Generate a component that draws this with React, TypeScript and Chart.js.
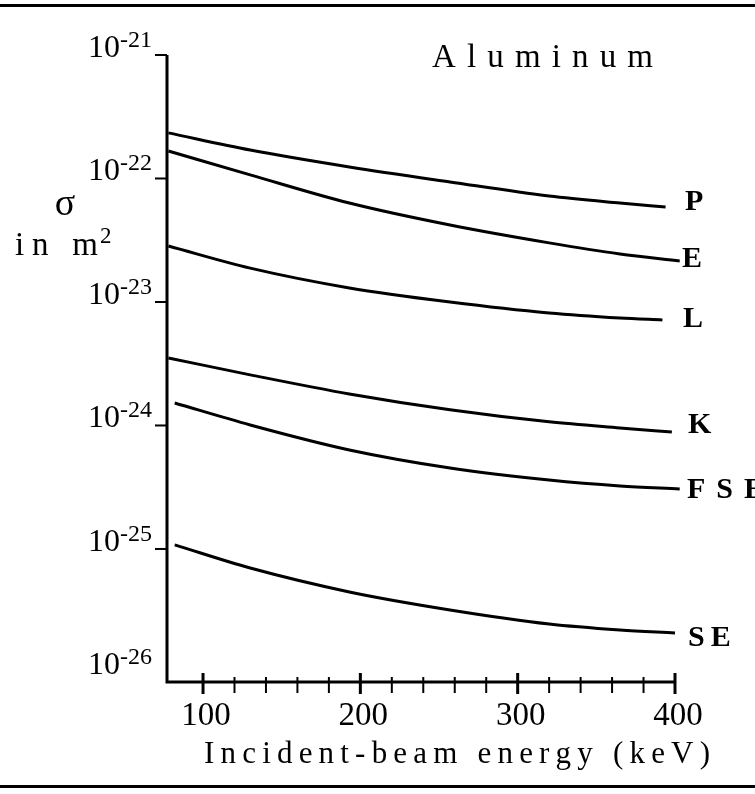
import React, { useEffect, useRef } from 'react';
import { Chart, registerables } from 'chart.js';

Chart.register(...registerables);

// ---- data ----
const seriesNames = ['P', 'E', 'L', 'K', 'FSE', 'SE'];

const energyP = [78, 130, 193, 257, 320, 365, 394];
const sigmaP = [2.34e-22, 1.7e-22, 1.24e-22, 9.37e-23, 7.21e-23, 6.33e-23, 5.88e-23];

const energyE = [78, 130, 193, 257, 320, 365, 403];
const sigmaE = [1.67e-22, 1.07e-22, 6.33e-23, 4.2e-23, 3.01e-23, 2.45e-23, 2.15e-23];

const energyL = [78, 130, 193, 257, 320, 365, 392];
const sigmaL = [2.84e-23, 1.88e-23, 1.3e-23, 1.0e-23, 8.15e-24, 7.42e-24, 7.15e-24];

const energyK = [78, 130, 193, 257, 320, 365, 398];
const sigmaK = [3.52e-24, 2.57e-24, 1.8e-24, 1.34e-24, 1.07e-24, 9.55e-25, 8.85e-25];

const energyFSE = [82, 130, 193, 257, 320, 365, 403];
const sigmaFSE = [1.52e-24, 1.01e-24, 6.34e-25, 4.53e-25, 3.62e-25, 3.24e-25, 3.06e-25];

const energySE = [82, 130, 193, 257, 320, 365, 400];
const sigmaSE = [1.08e-25, 7.01e-26, 4.49e-26, 3.21e-26, 2.47e-26, 2.21e-26, 2.09e-26];

const xMajorTicks = [100, 200, 300, 400];
const xMinorTicks = [120, 140, 160, 180, 220, 240, 260, 280, 320, 340, 360, 380];
const yTickValues = [1e-21, 1e-22, 1e-23, 1e-24, 1e-25];
const yLabelExponents = [-21, -22, -23, -24, -25, -26];

const titleText = 'Aluminum';
const xAxisTitle = 'Incident-beam energy (keV)';
const yAxisSymbol = 'σ';
const yAxisUnit = 'in m';

const energies = [energyP, energyE, energyL, energyK, energyFSE, energySE];
const sigmas = [sigmaP, sigmaE, sigmaL, sigmaK, sigmaFSE, sigmaSE];

// ---- layout ----
const W = 755;
const H = 794;
const SERIF = '"Liberation Serif", "Times New Roman", "DejaVu Serif", serif';
// series label placement: [left x, baseline y, letter gap]
const labelPos: [number, number, number][] = [
  [685, 210, 0],
  [682, 267, 0],
  [683, 327, 0],
  [688, 433, 0],
  [687, 498, 11],
  [688, 646, 6],
];

function drawSpaced(ctx: CanvasRenderingContext2D, text: string, x0: number, x1: number, y: number) {
  const chars = Array.from(text);
  const widths = chars.map((c) => ctx.measureText(c).width);
  const total = widths.reduce((a, b) => a + b, 0);
  const gap = chars.length > 1 ? (x1 - x0 - total) / (chars.length - 1) : 0;
  let x = x0;
  ctx.textAlign = 'left';
  chars.forEach((c, i) => {
    ctx.fillText(c, x, y);
    x += widths[i] + gap;
  });
}

function drawWithGap(ctx: CanvasRenderingContext2D, text: string, x0: number, y: number, gap: number) {
  let x = x0;
  ctx.textAlign = 'left';
  Array.from(text).forEach((c) => {
    ctx.fillText(c, x, y);
    x += ctx.measureText(c).width + gap;
  });
}

const decorPlugin = {
  id: 'decor',
  beforeDraw(chart: any) {
    const ctx = chart.ctx as CanvasRenderingContext2D;
    ctx.save();
    ctx.fillStyle = '#fff';
    ctx.fillRect(0, 0, W, H);
    ctx.restore();
  },
  afterDraw(chart: any) {
    const ctx = chart.ctx as CanvasRenderingContext2D;
    const xs = chart.scales.x;
    const ys = chart.scales.y;
    const area = chart.chartArea;
    ctx.save();
    ctx.fillStyle = '#000';
    ctx.strokeStyle = '#000';
    ctx.lineCap = 'butt';

    // page rules top and bottom
    ctx.fillRect(0, 4, W, 3);
    ctx.fillRect(0, 785, W, 3);

    const xLeft = area.left;
    const xRight = xs.getPixelForValue(400);
    const yTop = ys.getPixelForValue(1e-21);
    const yBottom = area.bottom;

    // axes
    ctx.lineWidth = 3;
    ctx.beginPath();
    ctx.moveTo(xLeft, yTop);
    ctx.lineTo(xLeft, yBottom);
    ctx.moveTo(xLeft - 1.5, yBottom);
    ctx.lineTo(xRight, yBottom);
    ctx.stroke();

    // y ticks
    ctx.lineWidth = 2;
    yTickValues.forEach((v) => {
      const py = ys.getPixelForValue(v);
      ctx.beginPath();
      ctx.moveTo(xLeft - 12, py);
      ctx.lineTo(xLeft, py);
      ctx.stroke();
    });

    // x ticks
    ctx.lineWidth = 3;
    xMajorTicks.forEach((v) => {
      const px = xs.getPixelForValue(v);
      ctx.beginPath();
      ctx.moveTo(px, yBottom - 9);
      ctx.lineTo(px, yBottom + 12);
      ctx.stroke();
    });
    ctx.lineWidth = 2;
    xMinorTicks.forEach((v) => {
      const px = xs.getPixelForValue(v);
      ctx.beginPath();
      ctx.moveTo(px, yBottom - 5);
      ctx.lineTo(px, yBottom + 11);
      ctx.stroke();
    });

    // y labels 10^-n
    yLabelExponents.forEach((e) => {
      const py = ys.getPixelForValue(Math.pow(10, e));
      ctx.font = `24px ${SERIF}`;
      const sup = `-${Math.abs(e)}`;
      const supW = ctx.measureText(sup).width;
      const supX = xLeft - 15 - supW;
      ctx.textAlign = 'left';
      ctx.fillText(sup, supX, py - 8);
      ctx.font = `32px ${SERIF}`;
      ctx.textAlign = 'right';
      ctx.fillText('10', supX, py + 2);
    });

    // x labels
    ctx.font = `33px ${SERIF}`;
    ctx.textAlign = 'center';
    xMajorTicks.forEach((v) => {
      const px = xs.getPixelForValue(v);
      ctx.fillText(String(v), px + 3, yBottom + 43);
    });

    // x axis title
    ctx.font = `31px ${SERIF}`;
    drawSpaced(ctx, xAxisTitle, 204, 710, 763);

    // chart title
    ctx.font = `33px ${SERIF}`;
    drawSpaced(ctx, titleText, 432, 653, 67);

    // y axis title
    ctx.font = `38px ${SERIF}`;
    ctx.textAlign = 'center';
    ctx.fillText(yAxisSymbol, 65, 215);
    ctx.font = `33px ${SERIF}`;
    drawSpaced(ctx, yAxisUnit, 15, 98, 255);
    ctx.font = `23px ${SERIF}`;
    ctx.textAlign = 'left';
    ctx.fillText('2', 100, 243);

    // series labels
    ctx.font = `bold 30px ${SERIF}`;
    seriesNames.forEach((name, i) => {
      const [lx, ly, gap] = labelPos[i];
      drawWithGap(ctx, name, lx, ly, gap);
    });

    ctx.restore();
  },
};

export default function App() {
  const canvasRef = useRef<HTMLCanvasElement | null>(null);

  useEffect(() => {
    const canvas = canvasRef.current;
    if (!canvas) return;
    const datasets = seriesNames.map((name, i) => ({
      label: name,
      data: energies[i].map((x, j) => ({ x, y: sigmas[i][j] })),
      borderColor: '#000',
      borderWidth: 3,
      pointRadius: 0,
      fill: false,
      cubicInterpolationMode: 'monotone' as const,
      clip: false as any,
    }));
    const chart = new Chart(canvas, {
      type: 'line',
      data: { datasets },
      options: {
        animation: false,
        responsive: false,
        devicePixelRatio: 1,
        layout: { padding: { left: 167, right: 80, top: 55, bottom: 112 } },
        scales: {
          x: { type: 'linear', min: 77.1, max: 400, display: false },
          y: { type: 'logarithmic', min: 8.37e-27, max: 1e-21, display: false },
        },
        plugins: {
          legend: { display: false },
          tooltip: { enabled: false },
        },
        events: [],
      },
      plugins: [decorPlugin],
    });
    let alive = true;
    const fonts = (document as any).fonts;
    if (fonts && fonts.load) {
      Promise.all([
        fonts.load('32px "Liberation Serif"'),
        fonts.load('bold 30px "Liberation Serif"'),
      ])
        .catch(() => null)
        .then(() => {
          if (alive) chart.draw();
        });
    }
    return () => {
      alive = false;
      chart.destroy();
    };
  }, []);

  return (
    <div style={{ position: 'fixed', left: 0, top: 0, width: W, height: H, background: '#fff' }}>
      <canvas ref={canvasRef} width={W} height={H} style={{ display: 'block', width: W, height: H }} />
    </div>
  );
}
